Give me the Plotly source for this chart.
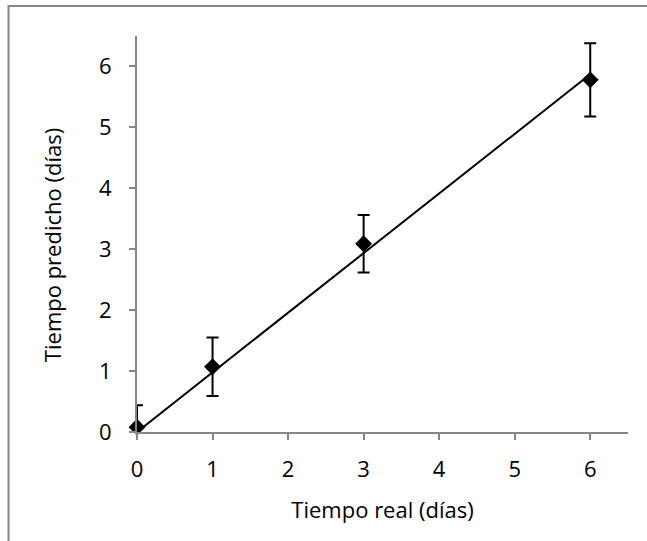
import numpy as np
import plotly.graph_objects as go

# Data
real_days = [0, 1, 3, 6]
predicted_days = [0.08, 1.07, 3.09, 5.78]
error_days = [0.36, 0.48, 0.47, 0.60]

x_ticks = [0, 1, 2, 3, 4, 5, 6]
y_ticks = [0, 1, 2, 3, 4, 5, 6]

x_title = "Tiempo real (días)"
y_title = "Tiempo predicho (días)"

# Linear trend through the origin (least squares fit)
xa = np.array(real_days, dtype=float)
ya = np.array(predicted_days, dtype=float)
slope = float((xa * ya).sum() / (xa * xa).sum())
trend_x = [0, max(real_days)]
trend_y = [slope * v for v in trend_x]

FONT = "Open Sans, Calibri, Carlito, sans-serif"
GRAY = "#868686"
FS = 22

fig = go.Figure()
fig.add_trace(go.Scatter(
    x=trend_x, y=trend_y, mode="lines",
    line=dict(color="black", width=2),
    hoverinfo="skip", showlegend=False,
))
# error bars (clipped to plot area)
fig.add_trace(go.Scatter(
    x=real_days, y=predicted_days, mode="markers",
    marker=dict(size=1, color="rgba(0,0,0,0)"),
    error_y=dict(type="data", array=error_days, visible=True,
                 color="black", thickness=2, width=6),
    hoverinfo="skip", showlegend=False, cliponaxis=True,
))
# markers (not clipped)
fig.add_trace(go.Scatter(
    x=real_days, y=predicted_days, mode="markers",
    marker=dict(symbol="diamond", size=13, color="black"),
    showlegend=False, cliponaxis=False,
))

fig.update_layout(
    width=647, height=541,
    margin=dict(l=137, r=19, t=36, b=109),
    paper_bgcolor="white", plot_bgcolor="white",
    font=dict(family=FONT, size=FS, color="black"),
    xaxis=dict(
        range=[0, 6.5], tickvals=x_ticks, ticktext=[str(v) for v in x_ticks],
        showgrid=False, zeroline=False,
        showline=True, linecolor=GRAY, linewidth=2,
        ticks="outside", ticklen=6, tickcolor=GRAY, tickwidth=2,
        ticklabelstandoff=11,
        title=dict(text=x_title, standoff=20, font=dict(size=FS)),
    ),
    yaxis=dict(
        range=[0, 6.5], tickvals=y_ticks, ticktext=[str(v) for v in y_ticks],
        showgrid=False, zeroline=False,
        showline=True, linecolor=GRAY, linewidth=2,
        ticks="outside", ticklen=6, tickcolor=GRAY, tickwidth=2,
        ticklabelstandoff=13,
    ),
    annotations=[dict(
        text=y_title, xref="paper", yref="paper",
        x=-0.173, y=0.472, xanchor="center", yanchor="middle",
        textangle=-90, showarrow=False, font=dict(size=FS, color="black"),
    )],
    shapes=[dict(
        type="rect", xref="paper", yref="paper",
        x0=-0.2617, x1=1.07, y0=-0.33, y1=1.0758,
        line=dict(color=GRAY, width=2), fillcolor="rgba(0,0,0,0)",
        layer="below",
    )],
)

fig.write_html("out.html")
